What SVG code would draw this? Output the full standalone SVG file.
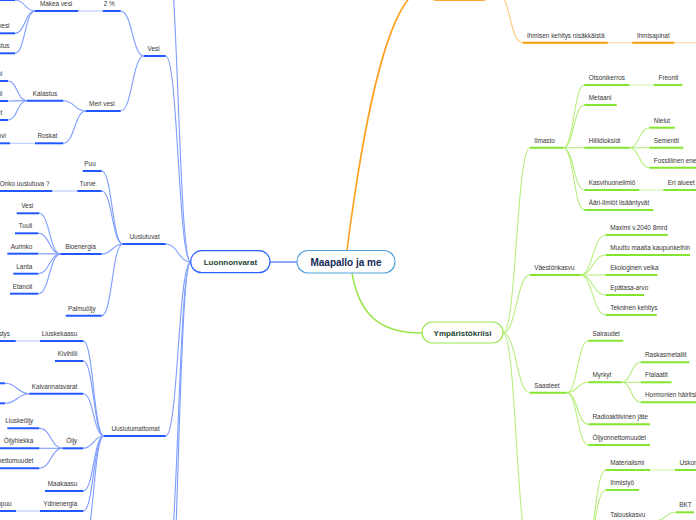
<svg xmlns="http://www.w3.org/2000/svg" width="696" height="520" viewBox="0 0 696 520">
<style>
.t{font-family:"Liberation Sans",Arial,sans-serif;font-size:6.4px;fill:#363636}
.e{text-anchor:end}
.bu{stroke:#2458ff;stroke-width:2}
.bc{stroke:#7d9cff;stroke-width:1.1;fill:none}
.bp{stroke:#b9caff;stroke-width:1.1}
.gu{stroke:#84e62c;stroke-width:2}
.gc{stroke:#b6ee7e;stroke-width:1.1;fill:none}
.gp{stroke:#d2f6ad;stroke-width:1.1}
.ou{stroke:#ff9a0a;stroke-width:2}
.oc{stroke:#ffc77a;stroke-width:1.1;fill:none}
.op{stroke:#ffd9a6;stroke-width:1.1}
.main{font-family:"Liberation Sans",Arial,sans-serif;font-weight:bold;text-anchor:middle}
</style>
<rect width="696" height="520" fill="#fff"/>
<g id="connectors">
<line x1="270" y1="262" x2="297" y2="262" stroke="#6d8dff" stroke-width="1.5"/>
<path d="M347 250C360 150 385 -12 427 -12" fill="none" stroke="#ff9f1c" stroke-width="1.6"/>
<path d="M352 273C360 320 385 333 422 333" fill="none" stroke="#9ae64c" stroke-width="1.5"/>
<!-- blue -->
<path class="bc" d="M190.7 262C178.2 262 178.2 -60 165.7 -60"/>
<path class="bc" d="M190.7 262C178.2 262 178.2 56 165.7 56"/>
<path class="bc" d="M190.7 262C178.2 262 178.2 244 165.7 244"/>
<path class="bc" d="M190.7 262C178.2 262 178.2 436 165.7 436"/>
<path class="bc" d="M190.7 262C178.2 262 178.2 580 165.7 580"/>
<path class="bc" d="M190.7 262C178.2 262 178.2 660 165.7 660"/>
<path class="bc" d="M144 56C132.3 56 132.3 11 120.7 11"/>
<path class="bc" d="M144 56C132.3 56 132.3 111 120.7 111"/>
<path class="bc" d="M35 11C25 11 25 0 15 0"/>
<path class="bc" d="M35 11C25 11 25 33.3 15 33.3"/>
<path class="bc" d="M35 11C25 11 25 53.3 15 53.3"/>
<path class="bc" d="M86 111C74.6 111 74.6 100.7 63.3 100.7"/>
<path class="bc" d="M86 111C74.6 111 74.6 143.3 63.3 143.3"/>
<path class="bc" d="M26.7 100.7C17.3 100.7 17.3 81 8 81"/>
<path class="bc" d="M26.7 100.7C17.3 100.7 17.3 101 8 101"/>
<path class="bc" d="M26.7 100.7C17.3 100.7 17.3 120 8 120"/>
<path class="bc" d="M122.7 244C112.2 244 112.2 171 101.7 171"/>
<path class="bc" d="M122.7 244C112.2 244 112.2 191 101.7 191"/>
<path class="bc" d="M122.7 244C112.2 244 112.2 254 101.7 254"/>
<path class="bc" d="M122.7 244C112.2 244 112.2 315.7 101.7 315.7"/>
<path class="bc" d="M60.7 254C49.5 254 49.5 213.3 39.3 213.3"/>
<path class="bc" d="M60.7 254C49.5 254 49.5 233.3 38.3 233.3"/>
<path class="bc" d="M60.7 254C49.5 254 49.5 253.7 38.3 253.7"/>
<path class="bc" d="M60.7 254C49.5 254 49.5 273.7 38.3 273.7"/>
<path class="bc" d="M60.7 254C49.5 254 49.5 293.7 38.3 293.7"/>
<path class="bc" d="M104 436C93.6 436 93.6 341 83.3 341"/>
<path class="bc" d="M104 436C93.6 436 93.6 361 83.3 361"/>
<path class="bc" d="M104 436C93.6 436 93.6 393.7 83.3 393.7"/>
<path class="bc" d="M104 436C93.6 436 93.6 448.3 83.3 448.3"/>
<path class="bc" d="M104 436C93.6 436 93.6 491 83.3 491"/>
<path class="bc" d="M104 436C93.6 436 93.6 511 83.3 511"/>
<path class="bc" d="M104 436C93.6 436 93.6 545 83.3 545"/>
<path class="bc" d="M29.3 393.7C17.2 393.7 17.2 383.3 5 383.3"/>
<path class="bc" d="M29.3 393.7C17.2 393.7 17.2 403.3 5 403.3"/>
<path class="bc" d="M62.7 448.3C51 448.3 51 428.3 39.3 428.3"/>
<path class="bc" d="M62.7 448.3C51 448.3 51 448.3 39.3 448.3"/>
<path class="bc" d="M62.7 448.3C51 448.3 51 468.3 39.3 468.3"/>
<line class="bp" x1="78.3" y1="11" x2="102.7" y2="11"/>
<line class="bp" x1="10" y1="143.3" x2="35" y2="143.3"/>
<line class="bp" x1="52.3" y1="191" x2="77.3" y2="191"/>
<line class="bp" x1="15.7" y1="341" x2="40" y2="341"/>
<line class="bp" x1="16" y1="511" x2="40" y2="511"/>
<!-- green -->
<path class="gc" d="M503 333C516.5 333 516.5 147.7 530 147.7"/>
<path class="gc" d="M503 333C516.5 333 516.5 275 530 275"/>
<path class="gc" d="M503 333C516.5 333 516.5 392.7 530 392.7"/>
<path class="gc" d="M503 333C516.5 333 516.5 552 530 552"/>
<path class="gc" d="M563.3 147.7C573.8 147.7 573.8 85 584.3 85"/>
<path class="gc" d="M563.3 147.7C573.8 147.7 573.8 105 584.3 105"/>
<path class="gc" d="M563.3 147.7C573.8 147.7 573.8 147.7 584.3 147.7"/>
<path class="gc" d="M563.3 147.7C573.8 147.7 573.8 190 584.3 190"/>
<path class="gc" d="M563.3 147.7C573.8 147.7 573.8 210 584.3 210"/>
<path class="gc" d="M629.3 147.7C639.3 147.7 639.3 127.7 649.3 127.7"/>
<path class="gc" d="M629.3 147.7C639.3 147.7 639.3 147.7 649.3 147.7"/>
<path class="gc" d="M629.3 147.7C639.3 147.7 639.3 167.7 649.3 167.7"/>
<path class="gc" d="M580 275C592.9 275 592.9 235 605.7 235"/>
<path class="gc" d="M580 275C592.9 275 592.9 255 605.7 255"/>
<path class="gc" d="M580 275C592.9 275 592.9 275 605.7 275"/>
<path class="gc" d="M580 275C592.9 275 592.9 295 605.7 295"/>
<path class="gc" d="M580 275C592.9 275 592.9 315 605.7 315"/>
<path class="gc" d="M566.7 392.7C577.5 392.7 577.5 340.7 588.3 340.7"/>
<path class="gc" d="M566.7 392.7C577.5 392.7 577.5 382.3 588.3 382.3"/>
<path class="gc" d="M566.7 392.7C577.5 392.7 577.5 424.3 588.3 424.3"/>
<path class="gc" d="M566.7 392.7C577.5 392.7 577.5 445 588.3 445"/>
<path class="gc" d="M621.7 382.3C631.2 382.3 631.2 362.3 640.7 362.3"/>
<path class="gc" d="M621.7 382.3C631.2 382.3 631.2 382.3 640.7 382.3"/>
<path class="gc" d="M621.7 382.3C631.2 382.3 631.2 402.3 640.7 402.3"/>
<path class="gc" d="M584 552C594.9 552 594.9 470 605.7 470"/>
<path class="gc" d="M584 552C594.9 552 594.9 490 605.7 490"/>
<path class="gc" d="M584 552C594.9 552 594.9 521 605.7 521"/>
<path class="gc" d="M655 521C665.5 521 665.5 512.3 676 512.3"/>
<line class="gp" x1="629.3" y1="85" x2="654" y2="85"/>
<line class="gp" x1="639.3" y1="190" x2="663.3" y2="190"/>
<line class="gp" x1="650" y1="470" x2="675" y2="470"/>
<!-- orange -->
<path class="oc" d="M492 -12C512 -12 508 42.7 522.7 42.7"/>
<line class="op" x1="607.7" y1="42.7" x2="632.3" y2="42.7"/>
<line class="op" x1="674.3" y1="42.7" x2="700" y2="42.7"/>
</g>
<g id="n-center"><rect x="297" y="250.5" width="98" height="22.5" rx="11" fill="#fff" stroke="#55a5e0" stroke-width="1.2"/><text class="main" x="346" y="265.6" font-size="10" fill="#152a55">Maapallo ja me</text></g>
<g id="n-luonnonvarat"><rect x="190.7" y="250.7" width="79.3" height="22" rx="11" fill="#fff" stroke="#2962ff" stroke-width="1.2"/><text class="main" x="230.4" y="265.3" font-size="8" fill="#1c4532">Luonnonvarat</text></g>
<g id="n-ymparistokriisi"><rect x="422" y="322" width="81" height="21" rx="10.5" fill="#fff" stroke="#9ae64c" stroke-width="1.2"/><text class="main" x="462.5" y="336" font-size="8" fill="#1c4532">Ympäristökriisi</text></g>
<g id="n-orange"><rect x="427" y="-22" width="65" height="22.5" rx="10" fill="#fff" stroke="#ffa733" stroke-width="1.2"/></g>
<!-- blue nodes -->
<g id="n-vesi"><line class="bu" x1="144" y1="56" x2="165.7" y2="56"/><text class="t e" x="159.7" y="51">Vesi</text></g>
<g id="n-2pros"><line class="bu" x1="102.7" y1="11" x2="120.7" y2="11"/><text class="t e" x="114.7" y="6">2 %</text></g>
<g id="n-makea"><line class="bu" x1="35" y1="11" x2="78.3" y2="11"/><text class="t e" x="72.3" y="6">Makea vesi</text></g>
<g id="n-makea1"><line class="bu" x1="0" y1="0" x2="15" y2="0"/></g>
<g id="n-makea2"><line class="bu" x1="0" y1="33.3" x2="15" y2="33.3"/><text class="t e" x="9.5" y="28.3">Pohjavesi</text></g>
<g id="n-makea3"><line class="bu" x1="0" y1="53.3" x2="15" y2="53.3"/><text class="t e" x="9.5" y="48.3">Kalastus</text></g>
<g id="n-meri"><line class="bu" x1="86" y1="111" x2="120.7" y2="111"/><text class="t e" x="114.7" y="106">Meri vesi</text></g>
<g id="n-kalastus"><line class="bu" x1="26.7" y1="100.7" x2="63.3" y2="100.7"/><text class="t e" x="57.3" y="95.7">Kalastus</text></g>
<g id="n-kal1"><line class="bu" x1="0" y1="81" x2="8" y2="81"/><text class="t e" x="2.3" y="76">Lohi</text></g>
<g id="n-kal2"><line class="bu" x1="0" y1="101" x2="8" y2="101"/><text class="t e" x="2.3" y="96">Silli</text></g>
<g id="n-kal3"><line class="bu" x1="0" y1="120" x2="8" y2="120"/><text class="t e" x="2.3" y="115">Ahvenet</text></g>
<g id="n-roskat"><line class="bu" x1="35" y1="143.3" x2="63.3" y2="143.3"/><text class="t e" x="57.3" y="138.3">Roskat</text></g>
<g id="n-muovi"><line class="bu" x1="0" y1="143.3" x2="10" y2="143.3"/><text class="t e" x="6" y="138.3">Muovi</text></g>
<g id="n-uusiutuvat"><line class="bu" x1="122.7" y1="244" x2="165.7" y2="244"/><text class="t e" x="159.7" y="239">Uusiutuvat</text></g>
<g id="n-puu"><line class="bu" x1="82.7" y1="171" x2="101.7" y2="171"/><text class="t e" x="95.7" y="166">Puu</text></g>
<g id="n-turve"><line class="bu" x1="77.3" y1="191" x2="101.7" y2="191"/><text class="t e" x="95.7" y="186">Turve</text></g>
<g id="n-onko"><line class="bu" x1="0" y1="191" x2="52.3" y2="191"/><text class="t e" x="49.5" y="186">Onko uusiutuva ?</text></g>
<g id="n-bioenergia"><line class="bu" x1="60.7" y1="254" x2="101.7" y2="254"/><text class="t e" x="95.7" y="249">Bioenergia</text></g>
<g id="n-palmuoljy"><line class="bu" x1="65.7" y1="315.7" x2="101.7" y2="315.7"/><text class="t e" x="95.7" y="310.7">Palmuöljy</text></g>
<g id="n-bvesi"><line class="bu" x1="16.7" y1="213.3" x2="39.3" y2="213.3"/><text class="t e" x="33.3" y="208.3">Vesi</text></g>
<g id="n-tuuli"><line class="bu" x1="15" y1="233.3" x2="38.3" y2="233.3"/><text class="t e" x="32.3" y="228.3">Tuuli</text></g>
<g id="n-aurinko"><line class="bu" x1="7.3" y1="253.7" x2="38.3" y2="253.7"/><text class="t e" x="32.3" y="248.7">Aurinko</text></g>
<g id="n-lanta"><line class="bu" x1="13.3" y1="273.7" x2="38.3" y2="273.7"/><text class="t e" x="32.3" y="268.7">Lanta</text></g>
<g id="n-etanoli"><line class="bu" x1="10" y1="293.7" x2="38.3" y2="293.7"/><text class="t e" x="32.3" y="288.7">Etanoli</text></g>
<g id="n-uusiutumattomat"><line class="bu" x1="104" y1="436" x2="165.7" y2="436"/><text class="t e" x="159.7" y="431">Uusiutumattomat</text></g>
<g id="n-liuskekaasu"><line class="bu" x1="40" y1="341" x2="83.3" y2="341"/><text class="t e" x="77.3" y="336">Liuskekaasu</text></g>
<g id="n-maanjaristys"><line class="bu" x1="0" y1="341" x2="15.7" y2="341"/><text class="t e" x="10" y="336">Maanjäristys</text></g>
<g id="n-kivihiili"><line class="bu" x1="55" y1="361" x2="83.3" y2="361"/><text class="t e" x="77.3" y="356">Kivihiili</text></g>
<g id="n-kaivannaisvarat"><line class="bu" x1="29.3" y1="393.7" x2="83.3" y2="393.7"/><text class="t e" x="77.3" y="388.7">Kaivannaisvarat</text></g>
<g id="n-kaiv1"><line class="bu" x1="0" y1="383.3" x2="5" y2="383.3"/></g>
<g id="n-kaiv2"><line class="bu" x1="0" y1="403.3" x2="5" y2="403.3"/></g>
<g id="n-oljy"><line class="bu" x1="62.7" y1="448.3" x2="83.3" y2="448.3"/><text class="t e" x="77.3" y="443.3">Öljy</text></g>
<g id="n-liuskeoljy"><line class="bu" x1="7.3" y1="428.3" x2="39.3" y2="428.3"/><text class="t e" x="33.3" y="423.3">Liuskeöljy</text></g>
<g id="n-oljyhiekka"><line class="bu" x1="0" y1="448.3" x2="39.3" y2="448.3"/><text class="t e" x="33.3" y="443.3">Öljyhiekka</text></g>
<g id="n-oljyonn"><line class="bu" x1="0" y1="468.3" x2="39.3" y2="468.3"/><text class="t e" x="33.3" y="463.3">Öljyonnettomuudet</text></g>
<g id="n-maakaasu"><line class="bu" x1="45" y1="491" x2="83.3" y2="491"/><text class="t e" x="77.3" y="486">Maakaasu</text></g>
<g id="n-ydinenergia"><line class="bu" x1="40" y1="511" x2="83.3" y2="511"/><text class="t e" x="77.3" y="506">Ydinenergia</text></g>
<g id="n-puu2"><line class="bu" x1="0" y1="511" x2="16" y2="511"/><text class="t e" x="11.5" y="506">Polttopuu</text></g>
<!-- green nodes -->
<g id="n-ilmasto"><line class="gu" x1="530" y1="147.7" x2="563.3" y2="147.7"/><text class="t" x="534.3" y="142.7">Ilmasto</text></g>
<g id="n-otsonikerros"><line class="gu" x1="584.3" y1="85" x2="629.3" y2="85"/><text class="t" x="588.8" y="80">Otsonikerros</text></g>
<g id="n-freonit"><line class="gu" x1="654" y1="85" x2="682.3" y2="85"/><text class="t" x="658.5" y="80">Freonit</text></g>
<g id="n-metaani"><line class="gu" x1="584.3" y1="105" x2="616.7" y2="105"/><text class="t" x="588.8" y="100">Metaani</text></g>
<g id="n-hiilidioksidi"><line class="gu" x1="584.3" y1="147.7" x2="629.3" y2="147.7"/><text class="t" x="588.8" y="142.7">Hiilidioksidi</text></g>
<g id="n-nielut"><line class="gu" x1="649.3" y1="127.7" x2="675" y2="127.7"/><text class="t" x="653.8" y="122.7">Nielut</text></g>
<g id="n-sementti"><line class="gu" x1="649.3" y1="147.7" x2="683.3" y2="147.7"/><text class="t" x="653.8" y="142.7">Sementti</text></g>
<g id="n-fossiilinen"><line class="gu" x1="649.3" y1="167.7" x2="700" y2="167.7"/><text class="t" x="653.8" y="162.7">Fossiilinen energia</text></g>
<g id="n-kasvihuone"><line class="gu" x1="584.3" y1="190" x2="639.3" y2="190"/><text class="t" x="588.8" y="185">Kasvihuoneilmiö</text></g>
<g id="n-erialueet"><line class="gu" x1="663.3" y1="190" x2="700" y2="190"/><text class="t" x="667.8" y="185">Eri alueet</text></g>
<g id="n-aari"><line class="gu" x1="584.3" y1="210" x2="653.3" y2="210"/><text class="t" x="588.8" y="205">Ääri-ilmiöt lisääntyvät</text></g>
<g id="n-vaestonkasvu"><line class="gu" x1="530" y1="275" x2="580" y2="275"/><text class="t" x="534.3" y="270">Väestönkasvu</text></g>
<g id="n-maximi"><line class="gu" x1="605.7" y1="235" x2="667.7" y2="235"/><text class="t" x="610.2" y="230">Maximi v.2040 8mrd</text></g>
<g id="n-muutto"><line class="gu" x1="605.7" y1="255" x2="690" y2="255"/><text class="t" x="610.2" y="250">Muutto maalta kaupunkeihin</text></g>
<g id="n-ekologinen"><line class="gu" x1="605.7" y1="275" x2="657.3" y2="275"/><text class="t" x="610.2" y="270">Ekologinen velka</text></g>
<g id="n-epatasa"><line class="gu" x1="605.7" y1="295" x2="644" y2="295"/><text class="t" x="610.2" y="290">Epätasa-arvo</text></g>
<g id="n-tekninen"><line class="gu" x1="605.7" y1="315" x2="656.7" y2="315"/><text class="t" x="610.2" y="310">Tekninen kehitys</text></g>
<g id="n-saasteet"><line class="gu" x1="530" y1="392.7" x2="566.7" y2="392.7"/><text class="t" x="534.3" y="387.7">Saasteet</text></g>
<g id="n-sairaudet"><line class="gu" x1="588.3" y1="340.7" x2="623.3" y2="340.7"/><text class="t" x="592.5" y="335.7">Sairaudet</text></g>
<g id="n-myrkyt"><line class="gu" x1="588.3" y1="382.3" x2="621.7" y2="382.3"/><text class="t" x="592.5" y="377.3">Myrkyt</text></g>
<g id="n-raskasmetallit"><line class="gu" x1="640.7" y1="362.3" x2="689.3" y2="362.3"/><text class="t" x="645" y="357.3">Raskasmetallit</text></g>
<g id="n-ftalaatit"><line class="gu" x1="640.7" y1="382.3" x2="671.7" y2="382.3"/><text class="t" x="645" y="377.3">Ftalaatit</text></g>
<g id="n-hormonien"><line class="gu" x1="640.7" y1="402.3" x2="700" y2="402.3"/><text class="t" x="645" y="397.3">Hormonien häiritsijät</text></g>
<g id="n-radioaktiivinen"><line class="gu" x1="588.3" y1="424.3" x2="650" y2="424.3"/><text class="t" x="592.5" y="419.3">Radioaktiivinen jäte</text></g>
<g id="n-oljyonnettomuudet"><line class="gu" x1="588.3" y1="445" x2="650" y2="445"/><text class="t" x="592.5" y="440">Öljyonnettomuudet</text></g>
<g id="n-bottom"><line class="gu" x1="530" y1="552" x2="584" y2="552"/></g>
<g id="n-materialismi"><line class="gu" x1="605.7" y1="470" x2="650" y2="470"/><text class="t" x="610.2" y="465">Materialismi</text></g>
<g id="n-uskonto"><line class="gu" x1="675" y1="470" x2="700" y2="470"/><text class="t" x="679.5" y="465">Uskonto</text></g>
<g id="n-ihmistyo"><line class="gu" x1="605.7" y1="490" x2="639" y2="490"/><text class="t" x="610.2" y="485">Ihmistyö</text></g>
<g id="n-talouskasvu"><line class="gu" x1="605.7" y1="521" x2="655" y2="521"/><text class="t" x="610.2" y="516.5">Talouskasvu</text></g>
<g id="n-bkt"><line class="gu" x1="676" y1="512.3" x2="694" y2="512.3"/><text class="t" x="679.3" y="507.3">BKT</text></g>
<!-- orange nodes -->
<g id="n-ihmisen"><line class="ou" x1="522.7" y1="42.7" x2="607.7" y2="42.7"/><text class="t" x="527" y="37.7">Ihmisen kehitys nisäkkäistä</text></g>
<g id="n-ihmisapinat"><line class="ou" x1="632.3" y1="42.7" x2="674.3" y2="42.7"/><text class="t" x="637" y="37.7">Ihmisapinat</text></g>
</svg>
